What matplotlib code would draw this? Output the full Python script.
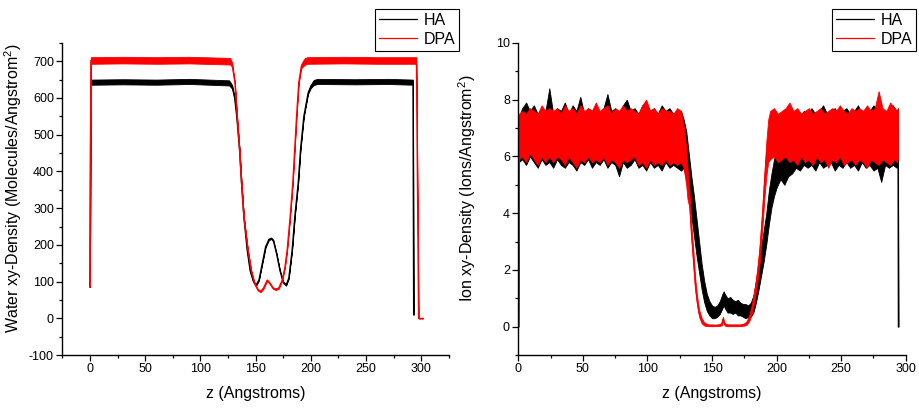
import numpy as np
import matplotlib
matplotlib.use("Agg")
import matplotlib.pyplot as plt
from matplotlib.ticker import MultipleLocator

plt.rcParams['font.family'] = ['Liberation Sans', 'DejaVu Sans']
plt.rcParams['mathtext.fontset'] = 'custom'
plt.rcParams['mathtext.rm'] = 'Liberation Sans'
plt.rcParams['axes.unicode_minus'] = False

# === water density (left panel): mean value and half-width of the noise band
water_z_ha = [0, 0.8, 30, 60, 90, 126, 128.8, 131, 133, 135.4,
              137.2, 139.3, 142.3, 145, 148, 150.5, 153, 156, 159, 162,
              164, 166, 169, 172, 175, 177.6, 180, 183, 185.5, 188.5,
              190.6, 193.6, 197.5, 200, 202.6, 206, 240, 270, 292.4, 293]
water_ha = [85, 643, 644, 643, 645, 641, 630, 600, 545, 460,
            369, 277, 186, 130, 100, 91, 105, 150, 195, 215,
            218, 212, 175, 130, 98, 91, 110, 186, 280, 369,
            460, 550, 614, 632, 642, 645, 644, 645, 643, 10]
water_ha_spread = [0, 7, 7, 7, 7, 7, 5, 3, 2, 2,
                   2, 2, 2, 2, 2, 2, 2, 2, 2, 2,
                   2, 2, 2, 2, 2, 2, 2, 2, 2, 2,
                   2, 2, 3, 5, 7, 7, 7, 7, 7, 0]

water_z_dpa = [0, 0.8, 30, 60, 90, 127, 128.8, 131.2, 133, 135.4,
               137.2, 139.3, 143, 146, 149, 152, 154.4, 157, 160.4, 163,
               165.5, 168, 171, 174.1, 176.5, 178.5, 181, 183.6, 185.5, 187,
               189, 191.4, 194, 196.5, 230, 260, 295.5, 297.5, 301.5]
water_dpa = [86, 702, 703, 702, 703, 700, 690, 642, 560, 460,
             369, 277, 186, 130, 95, 78, 73, 82, 104, 95,
             83, 79, 83, 105, 140, 186, 270, 369, 470, 550,
             642, 687, 698, 702, 703, 702, 702, 0, 0]
water_dpa_spread = [0, 9, 9, 9, 9, 9, 6, 3, 2, 2,
                    2, 2, 2, 2, 2, 2, 2, 2, 2, 2,
                    2, 2, 2, 2, 2, 2, 2, 2, 2, 2,
                    3, 6, 9, 9, 9, 9, 9, 0, 0]

# === ion density (right panel): lower / upper edge of the noisy band
ion_z_ha = [0, 0.4, 3, 6, 9, 12, 15, 18, 21, 24,
            27, 30, 33, 36, 39, 42, 45, 48, 51, 54,
            57, 60, 63, 66, 69, 72, 75, 78, 81, 84,
            87, 90, 93, 96, 99, 102, 105, 108, 111, 114,
            117, 120, 123, 126, 128, 130, 132, 134, 136, 138,
            140, 142, 144, 146, 148, 150, 152, 154, 156, 158,
            159, 160, 162, 164, 166, 168, 170, 172, 174, 176,
            178, 180, 182, 184, 186, 188, 190, 192, 194, 196,
            198, 200, 203, 206, 209, 212, 215, 218, 221, 224,
            227, 230, 233, 236, 239, 242, 245, 248, 251, 254,
            257, 260, 263, 266, 269, 272, 275, 278, 281, 284,
            287, 290, 293, 294, 294.3]
ion_ha_lo = [0, 5.8, 5.9, 5.7, 6.0, 5.8, 5.6, 5.9, 5.7, 5.8,
             5.6, 5.9, 5.7, 5.6, 5.8, 5.7, 5.5, 5.8, 5.7, 5.9,
             5.6, 5.8, 5.7, 5.9, 5.6, 5.8, 5.7, 5.3, 5.8, 5.6,
             5.7, 5.9, 5.6, 5.7, 5.5, 5.8, 5.6, 5.7, 5.5, 5.8,
             5.6, 5.7, 5.6, 5.5, 5.6, 5.2, 4.6, 3.9, 3.2, 2.5,
             1.9, 1.3, 0.85, 0.55, 0.4, 0.3, 0.3, 0.35, 0.45, 0.65,
             0.75, 0.65, 0.5, 0.5, 0.45, 0.5, 0.4, 0.4, 0.35, 0.3,
             0.35, 0.35, 0.5, 0.85, 1.3, 1.8, 2.3, 2.9, 3.6, 4.2,
             4.6, 4.9, 5.2, 5.0, 5.3, 5.4, 5.6, 5.5, 5.7, 5.6,
             5.7, 5.5, 5.8, 5.6, 5.7, 5.8, 5.5, 5.7, 5.6, 5.8,
             5.6, 5.7, 5.5, 5.8, 5.6, 5.7, 5.5, 5.6, 5.1, 5.7,
             5.6, 5.7, 5.6, 5.7, 0]
ion_ha_hi = [0, 7.4, 7.7, 7.9, 7.6, 7.8, 7.5, 7.7, 7.6, 8.4,
             7.5, 7.7, 7.6, 7.9, 7.5, 7.8, 7.6, 8.1, 7.5, 7.7,
             7.6, 7.8, 7.5, 7.7, 8.2, 7.6, 7.7, 7.5, 7.8, 8.0,
             7.6, 7.7, 7.5, 7.8, 7.9, 7.6, 7.7, 7.5, 7.8, 7.6,
             7.7, 7.5, 7.6, 7.6, 7.3, 6.9, 6.1, 5.3, 4.6, 3.8,
             3.0, 2.2, 1.6, 1.15, 0.9, 0.75, 0.7, 0.75, 0.9, 1.15,
             1.25, 1.15, 1.0, 1.05, 0.95, 0.9, 0.95, 0.85, 0.8, 0.8,
             0.75, 0.85, 1.1, 1.6, 2.2, 2.8, 3.4, 4.0, 4.8, 5.4,
             5.9, 6.3, 6.8, 7.1, 7.3, 7.5, 7.6, 7.4, 7.6, 7.5,
             7.7, 7.5, 7.6, 7.8, 7.5, 7.6, 7.7, 7.5, 7.6, 7.7,
             7.5, 7.6, 7.8, 7.5, 7.7, 7.6, 7.8, 7.6, 7.7, 7.5,
             7.7, 7.8, 7.6, 7.7, 0]

ion_z_dpa = [0, 0.4, 3, 6, 9, 12, 15, 18, 21, 24,
             27, 30, 33, 36, 39, 42, 45, 48, 51, 54,
             57, 60, 63, 66, 69, 72, 75, 78, 81, 84,
             87, 90, 93, 96, 99, 102, 105, 108, 111, 114,
             117, 120, 123, 126, 128, 130, 131, 132.5, 134, 135.5,
             137, 138.5, 140, 142, 144, 147, 150, 153, 156, 157.5,
             158.5, 159.5, 161, 164, 168, 172, 175, 177, 179, 181,
             183, 185, 187, 189, 190.5, 192, 193.5, 195, 198, 201,
             204, 207, 210, 213, 216, 219, 222, 225, 228, 231,
             234, 237, 240, 243, 246, 249, 252, 255, 258, 261,
             264, 267, 270, 273, 276, 279, 282, 285, 288, 291,
             293, 294]
ion_dpa_lo = [0, 5.9, 6.0, 5.8, 6.1, 5.9, 5.7, 6.0, 5.8, 6.0,
              5.8, 6.0, 5.9, 5.7, 6.0, 5.8, 5.6, 5.9, 5.8, 6.0,
              5.8, 5.9, 5.8, 6.0, 5.7, 5.9, 5.8, 5.6, 5.9, 5.8,
              5.9, 6.0, 5.7, 5.8, 5.6, 5.9, 5.7, 5.8, 5.7, 5.9,
              5.7, 5.8, 5.7, 5.8, 5.6, 5.0, 4.5, 4.2, 3.1, 2.2,
              1.3, 0.75, 0.35, 0.12, 0.04, 0.02, 0.02, 0.02, 0.03, 0.05,
              0.2, 0.06, 0.02, 0.02, 0.02, 0.02, 0.04, 0.08, 0.22, 0.5,
              0.95, 1.55, 2.3, 3.5, 4.5, 5.3, 5.8, 5.9, 6.0, 5.8,
              5.9, 6.0, 5.8, 5.9, 5.7, 6.0, 5.8, 5.9, 5.7, 6.0,
              5.8, 5.9, 5.6, 5.9, 5.8, 6.0, 5.7, 5.8, 5.9, 5.7,
              5.9, 5.8, 5.6, 5.9, 5.8, 5.7, 5.9, 5.8, 5.7, 5.9,
              5.8, 5.9]
ion_dpa_hi = [0, 7.5, 7.6, 7.5, 7.7, 7.6, 7.5, 7.8, 7.6, 7.7,
              7.6, 7.7, 7.5, 7.8, 7.6, 7.7, 7.5, 7.8, 7.6, 7.7,
              7.6, 7.9, 7.6, 7.7, 7.8, 7.5, 7.7, 7.6, 7.8, 7.6,
              7.7, 7.6, 7.5, 7.8, 8.0, 7.6, 7.7, 7.5, 7.7, 7.6,
              7.6, 7.5, 7.7, 7.6, 7.1, 6.3, 5.6, 4.8, 3.6, 2.7,
              1.7, 1.05, 0.6, 0.3, 0.15, 0.08, 0.08, 0.07, 0.09, 0.14,
              0.35, 0.15, 0.09, 0.08, 0.08, 0.08, 0.12, 0.2, 0.42, 0.8,
              1.35, 2.0, 2.9, 4.2, 5.4, 6.5, 7.3, 7.6, 7.7, 7.5,
              7.6, 7.7, 7.9, 7.6, 7.7, 7.5, 7.6, 7.7, 7.5, 7.6,
              7.7, 7.5, 7.6, 7.7, 7.6, 7.8, 7.6, 7.5, 7.7, 7.6,
              7.7, 7.6, 7.8, 7.6, 7.7, 8.3, 7.7, 7.6, 7.9, 7.7,
              7.6, 7.7]

series_labels = ['HA', 'DPA']
series_colors = ['#000000', '#ff0000']


def style_axes(ax):
    ax.spines['top'].set_visible(False)
    ax.spines['right'].set_visible(False)
    for s in ('left', 'bottom'):
        ax.spines[s].set_linewidth(1.0)
        ax.spines[s].set_zorder(10)
    ax.tick_params(which='major', direction='out', length=4, width=0.9, labelsize=9, pad=2)
    ax.tick_params(which='minor', direction='out', length=2.5, width=0.9)
    ax.set_xlabel('z (Angstroms)', fontsize=11.5)
    ax.xaxis.set_label_coords(0.5, -0.10)


fig = plt.figure(figsize=(9.2, 4.12), dpi=100)
ax1 = fig.add_axes([0.0677, 0.138, 0.4203, 0.758])
ax2 = fig.add_axes([0.5634, 0.138, 0.4211, 0.758])

# --- left: water (HA first, DPA drawn over it)
water = [(water_z_ha, water_ha, water_ha_spread), (water_z_dpa, water_dpa, water_dpa_spread)]
for i, ((z, v, sp), lab, col) in enumerate(zip(water, series_labels, series_colors)):
    z = np.array(z); v = np.array(v, float); sp = np.array(sp, float)
    ax1.fill_between(z, v - sp, v + sp, color=col, lw=0.6, zorder=2 + 2 * i)
    ax1.plot(z, v, color=col, lw=0.9, label=lab, zorder=3 + 2 * i)

ax1.set_xlim(-25, 325)
ax1.set_ylim(-100, 750)
ax1.xaxis.set_major_locator(MultipleLocator(50))
ax1.xaxis.set_minor_locator(MultipleLocator(25))
ax1.yaxis.set_major_locator(MultipleLocator(100))
ax1.yaxis.set_minor_locator(MultipleLocator(50))
style_axes(ax1)
ax1.set_ylabel('Water xy-Density (Molecules/Angstrom$^2$)', fontsize=11.5)
ax1.yaxis.set_label_coords(-0.100, 0.535)

# --- right: ions
ions = [(ion_z_ha, ion_ha_lo, ion_ha_hi), (ion_z_dpa, ion_dpa_lo, ion_dpa_hi)]
for i, ((z, lo, hi), lab, col) in enumerate(zip(ions, series_labels, series_colors)):
    z = np.array(z); lo = np.array(lo); hi = np.array(hi)
    ax2.fill_between(z, lo, hi, color=col, lw=0.6, zorder=2 + 2 * i)
    ax2.plot(z, (lo + hi) / 2, color=col, lw=0.9, label=lab, zorder=3 + 2 * i)

ax2.set_xlim(0, 300)
ax2.set_ylim(-1, 10)
ax2.xaxis.set_major_locator(MultipleLocator(50))
ax2.xaxis.set_minor_locator(MultipleLocator(25))
ax2.yaxis.set_major_locator(MultipleLocator(2))
ax2.yaxis.set_minor_locator(MultipleLocator(1))
style_axes(ax2)
ax2.set_ylabel('Ion xy-Density (Ions/Angstrom$^2$)', fontsize=11.5)
ax2.yaxis.set_label_coords(-0.104, 0.535)

for ax, xr in ((ax1, 0.499), (ax2, 0.9957)):
    leg = ax.legend(loc='upper right', bbox_to_anchor=(xr, 0.978), bbox_transform=fig.transFigure,
                    borderaxespad=0, fancybox=False, framealpha=1, edgecolor='#000000',
                    fontsize=11.5, handlelength=2.4, labelspacing=0.25, borderpad=0.25,
                    handletextpad=0.4)
    leg.get_frame().set_linewidth(0.8)
    leg.set_zorder(20)

fig.savefig('out.png', dpi=100)
